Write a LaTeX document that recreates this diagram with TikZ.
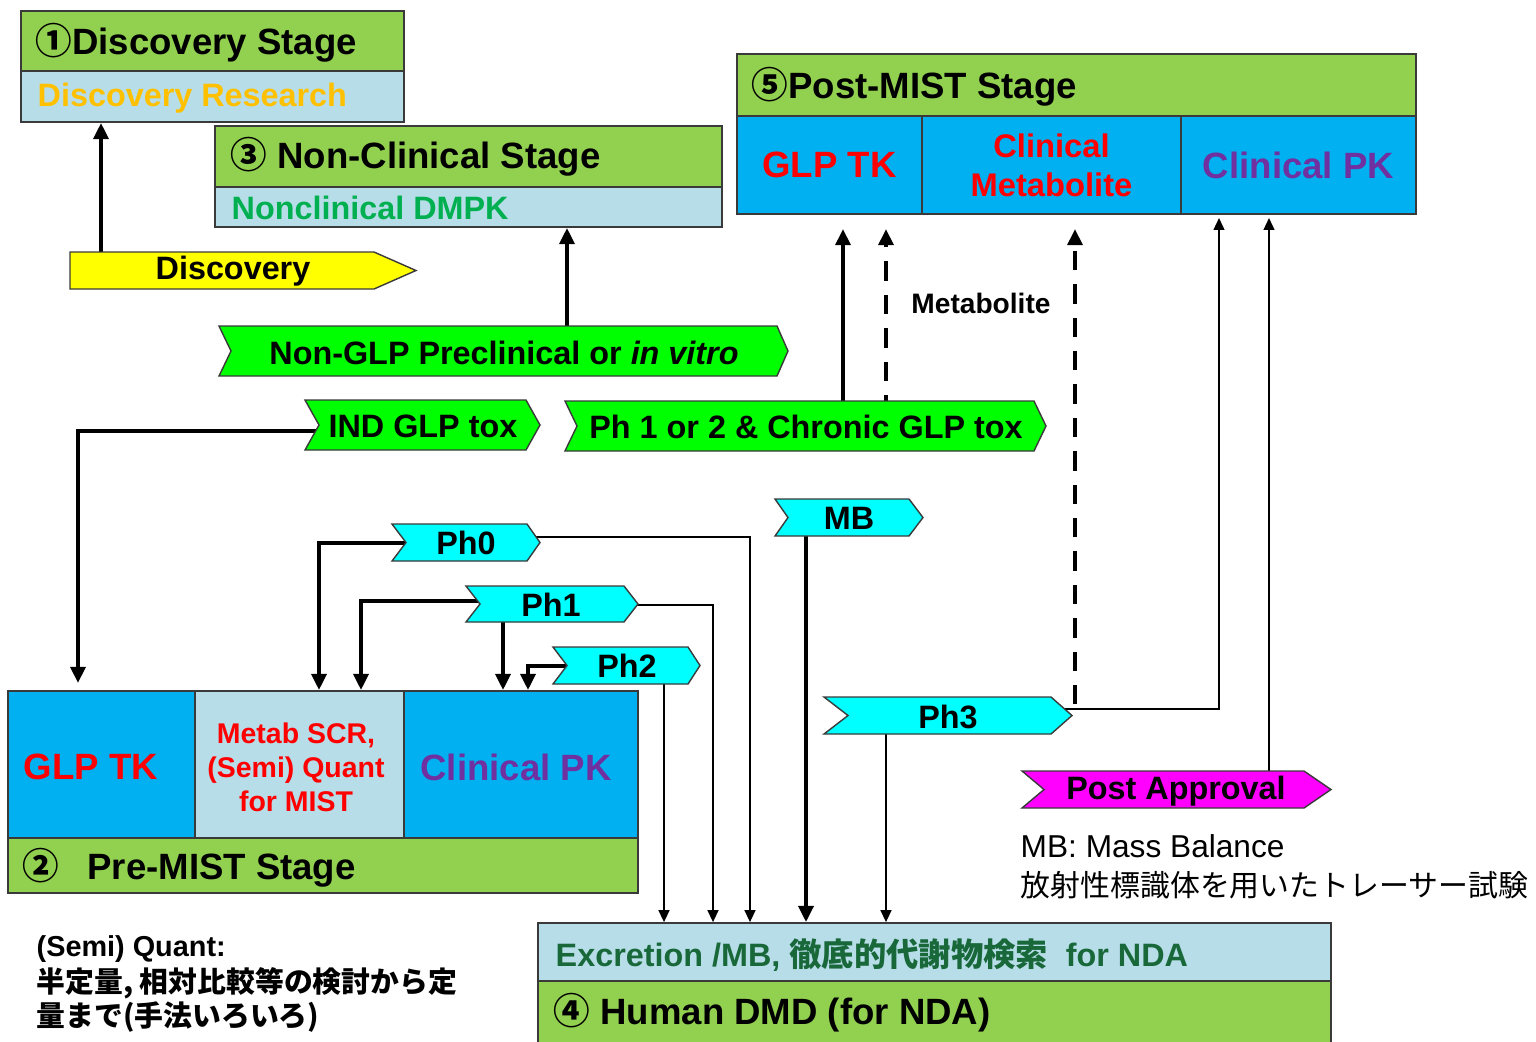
\documentclass[tikz,border=0pt]{standalone}
\usepackage{fontspec}
\setmainfont{Liberation Sans}
\newfontfamily\jp{Noto Sans CJK JP}
\usepackage{tikz}
\usetikzlibrary{shapes,arrows,arrows.meta,positioning,backgrounds}

\definecolor{Lime}{HTML}{92D050}
\definecolor{Aqua}{HTML}{B7DEE8}
\definecolor{Sky}{HTML}{00B0F0}
\definecolor{Edge}{HTML}{3A3A3A}
\definecolor{Amber}{HTML}{FFC000}
\definecolor{Leaf}{HTML}{00B050}
\definecolor{Grape}{HTML}{7030A0}
\definecolor{Pine}{RGB}{24,104,58}
\definecolor{TagCyan}{HTML}{00FFFF}
\definecolor{TagGreen}{HTML}{00FF00}
\definecolor{TagYellow}{HTML}{FFFF00}
\definecolor{TagPink}{HTML}{FF00FF}

\begin{document}
\begin{tikzpicture}[x=0.01cm,y=-0.01cm]
		\tikzstyle{Band}	= [rectangle, draw=Edge, line width=0.5pt, fill=Lime, inner sep=0pt]
		\tikzstyle{Pale}	= [Band, fill=Aqua]
		\tikzstyle{Cell}	= [Band, fill=Sky]
		\tikzstyle{Title}	= [anchor=west, inner sep=0pt, font=\fontsize{10.4}{12}\selectfont\bfseries]
		\tikzstyle{Sub}		= [anchor=west, inner sep=0pt, font=\fontsize{9.2}{11}\selectfont\bfseries]
		\tikzstyle{Big}		= [inner sep=0pt, font=\fontsize{10.4}{12}\selectfont\bfseries]
		\tikzstyle{Tag}		= [inner sep=0pt, font=\fontsize{9.2}{11}\selectfont\bfseries]
		\tikzstyle{Chev}	= [draw=Edge, line width=0.4pt]
		\tikzstyle{Thick}	= [line width=1.15pt, -{Triangle[length=4.6pt,width=4.2pt]}]
		\tikzstyle{Thin}	= [line width=0.45pt, -{Triangle[length=3.4pt,width=3.1pt]}]
		\tikzstyle{Dash}	= [Thick, dash pattern=on 5.5pt off 4pt]

		\useasboundingbox (0,0) rectangle (1536,1041);

		\node (disc) at (212.5,41) [Band, minimum width=3.83cm, minimum height=0.60cm] {};
		\node (discR) at (212.5,96.5) [Pale, minimum width=3.83cm, minimum height=0.51cm] {};
		\node (discT) at (35,43) [Title] {{\jp ①}Discovery Stage};
		\node (discRT) at (37,98) [Sub, text=Amber] {Discovery Research};

		\node (ncs) at (468.5,156.5) [Band, minimum width=5.07cm, minimum height=0.61cm] {};
		\node (ncsR) at (468.5,207) [Pale, minimum width=5.07cm, minimum height=0.40cm] {};
		\node (ncsT) at (230,157) [Title] {{\jp ③} Non-Clinical Stage};
		\node (ncsRT) at (231,208) [Sub, text=Leaf] {Nonclinical DMPK};

		\node (post) at (1076.5,85) [Band, minimum width=6.79cm, minimum height=0.62cm] {};
		\node (postT) at (751,87) [Title] {{\jp ⑤}Post-MIST Stage};
		\node (postGlp) at (829.5,165) [Cell, minimum width=1.85cm, minimum height=0.98cm, Big, text=red] {GLP TK};
		\node (postMet) at (1051.5,165) [Cell, minimum width=2.59cm, minimum height=0.98cm, inner sep=0pt, text=red, align=center, font=\fontsize{9.3}{11.1}\selectfont\bfseries] {Clinical\\Metabolite};
		\node (postPk) at (1298.5,165) [Cell, minimum width=2.35cm, minimum height=0.98cm, Big, text=Grape] {Clinical PK};

		\node (preGlp) at (101.5,764.5) [Cell, minimum width=1.87cm, minimum height=1.47cm] {};
		\node (preMet) at (299.5,764.5) [Pale, minimum width=2.09cm, minimum height=1.47cm] {};
		\node (prePk) at (521,764.5) [Cell, minimum width=2.34cm, minimum height=1.47cm] {};
		\node (pre) at (323,865.5) [Band, minimum width=6.30cm, minimum height=0.55cm] {};
		\node (preGlpT) at (91,767) [Big, text=red] {GLP TK};
		\node (preMetT) at (296,767) [inner sep=0pt, text=red, align=center, font=\fontsize{8.1}{9.7}\selectfont\bfseries] {Metab SCR,\\(Semi) Quant\\for MIST};
		\node (prePkT) at (516,767) [Big, text=Grape] {Clinical PK};
		\node (preT) at (22,868) [Title] {{\jp ②}\hspace{8pt}Pre-MIST Stage};

		\node (hum) at (934.5,952) [Pale, minimum width=7.93cm, minimum height=0.58cm] {};
		\node (humB) at (934.5,1012) [Band, minimum width=7.93cm, minimum height=0.62cm] {};
		\node (humRT) at (555,955) [Sub, text=Pine] {Excretion /MB, {\jp 徹底的代謝物検索}\hspace{5pt}for NDA};
		\node (humT) at (553,1013) [Title] {{\jp ④} Human DMD (for NDA)};

		\draw [Chev, fill=TagYellow] (70,252) -- (374,252) -- (416,270.5) -- (374,289) -- (70,289) -- cycle;
		\draw [Chev, fill=TagGreen] (219,326) -- (777,326) -- (788,351) -- (777,376) -- (219,376) -- (231,351) -- cycle;
		\draw [Chev, fill=TagGreen] (305,400) -- (526,400) -- (540,425) -- (526,450) -- (305,450) -- (319,425) -- cycle;
		\draw [Chev, fill=TagGreen] (565,401) -- (1034,401) -- (1046,426) -- (1034,451) -- (565,451) -- (577,426) -- cycle;
		\draw [Chev, fill=TagCyan] (775,499) -- (909,499) -- (923,517.5) -- (909,536) -- (775,536) -- (788,517.5) -- cycle;
		\draw [Chev, fill=TagCyan] (392,524) -- (527,524) -- (540,542.5) -- (527,561) -- (392,561) -- (406,542.5) -- cycle;
		\draw [Chev, fill=TagCyan] (466,586) -- (624,586) -- (638,604) -- (624,622) -- (466,622) -- (480,604) -- cycle;
		\draw [Chev, fill=TagCyan] (553,647) -- (688,647) -- (700,665.5) -- (688,684) -- (553,684) -- (567,665.5) -- cycle;
		\draw [Chev, fill=TagCyan] (824,697) -- (1051,697) -- (1072,715.5) -- (1051,734) -- (824,734) -- (848,715.5) -- cycle;
		\draw [Chev, fill=TagPink] (1022,771) -- (1304,771) -- (1331,789.5) -- (1304,808) -- (1022,808) -- (1044,789.5) -- cycle;

		\node (chDisc) at (233,271) [Tag] {Discovery};
		\node (chNon) at (504,353) [Tag] {Non-GLP Preclinical or \textit{in vitro}};
		\node (chInd) at (423,426) [Tag] {IND GLP tox};
		\node (chPh12) at (806,427) [Tag] {Ph 1 or 2 \& Chronic GLP tox};
		\node (chMb) at (849,518) [Tag] {MB};
		\node (chPh0) at (466,543) [Tag] {Ph0};
		\node (chPh1) at (551,605) [Tag] {Ph1};
		\node (chPh2) at (627,666) [Tag] {Ph2};
		\node (chPh3) at (948,717) [Tag] {Ph3};
		\node (chPost) at (1176,791) [Tag] {Post Approval};

		\node (metLbl) at (981,303) [inner sep=0pt, font=\fontsize{8}{10}\selectfont\bfseries] {Metabolite};

		\node (mbNote) at (1020,846) [anchor=west, inner sep=0pt, font=\fontsize{9}{11}\selectfont] {MB: Mass Balance};
		\node (mbNoteJ) at (1020,885) [anchor=west, inner sep=0pt, font=\jp\fontsize{8.5}{10}\selectfont] {放射性標識体を用いたトレーサー試験};
		\node (sqNote) at (36,949) [anchor=west, inner sep=0pt, font=\fontsize{8.2}{9}\selectfont\bfseries] {(Semi) Quant:};
		\node (sqNoteJ) at (36,1000) [anchor=west, inner sep=0pt, align=left, font=\jp\fontsize{8.2}{8.6}\selectfont\bfseries] {半定量, 相対比較等の検討から定\\量まで(手法いろいろ)};

		\coordinate (tipT) at (0,229);
		\coordinate (tipS) at (0,218);
		\coordinate (indEnd) at (78,683);

		\begin{pgfonlayer}{background}
		\draw [Thick] (101,0 |- chDisc) -- (101,0 |- discR.south);
		\draw [Thick] (567,0 |- chNon) -- (567,0 |- ncsR.south);
		\draw [Thick] (843,0 |- chPh12) -- (843,0 |- tipT);
		\draw [Dash] (886,0 |- chPh12.north) -- (886,0 |- tipT);
		\draw [Dash] (1075,0 |- chPh3.north) -- (1075,0 |- tipT);
		\draw [Thin] ([yshift=2.3pt]chPh3.east) -| (1219,0 |- tipS);
		\draw [Thin] (1269,0 |- chPost) -- (1269,0 |- tipS);

		\draw [Thick] ([yshift=-1.4pt]chInd.west) -| (indEnd);
		\draw [Thick] (chPh0) -| (319,0 |- preMet.north);
		\draw [Thick] ([yshift=1.1pt]chPh1.west) -| (361,0 |- preMet.north);
		\draw [Thick] (503,0 |- chPh1) -- (503,0 |- prePk.north);
		\draw [Thick] (chPh2) -| (528,0 |- prePk.north);

		\draw [Thin] ([yshift=1.7pt]chPh0.east) -| (750,0 |- hum.north);
		\draw [Thin] (chPh1) -| (713,0 |- hum.north);
		\draw [Thin] (664,0 |- chPh2) -- (664,0 |- hum.north);
		\draw [Thick] (806,0 |- chMb) -- (806,0 |- hum.north);
		\draw [Thin] (886,0 |- chPh3) -- (886,0 |- hum.north);
		\end{pgfonlayer}
	\end{tikzpicture}
\end{document}
